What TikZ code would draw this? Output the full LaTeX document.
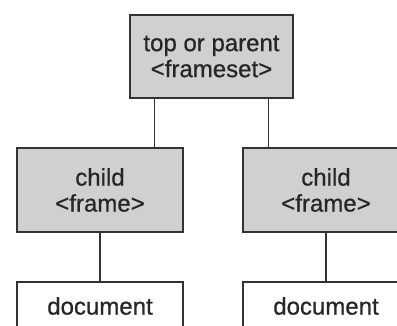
\documentclass[tikz,border=0pt]{standalone}
\usepackage{fontspec}
\setmainfont{Liberation Sans}
\usetikzlibrary{calc}
\definecolor{edge}{HTML}{333333}
\definecolor{shade}{HTML}{D0D0D0}
\definecolor{ink}{HTML}{262626}
\begin{document}
\begin{tikzpicture}[x=1pt,y=1pt,
  box/.style={draw=edge, line width=1.4pt, text=ink, align=center,
    font=\fontsize{24}{27}\selectfont\addfontfeature{FakeBold=0.7}, inner sep=0pt},
  framebox/.style={box, fill=shade},
  docbox/.style={box, fill=white},
  link/.style={draw=edge, line width=1.3pt}]
\useasboundingbox (0,0) rectangle (397,326);
\clip (0,0) rectangle (397,326);

% frameset at the top, two frames below it, one document in each frame
\node[framebox, minimum width=163pt, minimum height=83pt] (top) at (211.5,269.5)
  {top or parent\\[-1pt]<frameset>};
\node[framebox, minimum width=166pt, minimum height=84pt] (childL) at (100,136)
  {child\\[-1pt]<frame>};
\node[framebox, minimum width=166pt, minimum height=84pt] (childR) at (326,136)
  {child\\[-1pt]<frame>};
\node[docbox, minimum width=166pt, minimum height=48pt] (docL) at (100,20)
  {document};
\node[docbox, minimum width=166pt, minimum height=48pt] (docR) at (326,20)
  {document};

% branch points on the lower edge of the frameset box
\coordinate (pL) at ($(top.south west)!0.153!(top.south east)$);
\coordinate (pR) at ($(top.south west)!0.847!(top.south east)$);

\draw[link] (pL) -- (pL |- childL.north);
\draw[link] (pR) -- (pR |- childR.north);
\draw[link] (childL.south) -- (docL.north);
\draw[link] (childR.south) -- (docR.north);
\end{tikzpicture}
\end{document}
